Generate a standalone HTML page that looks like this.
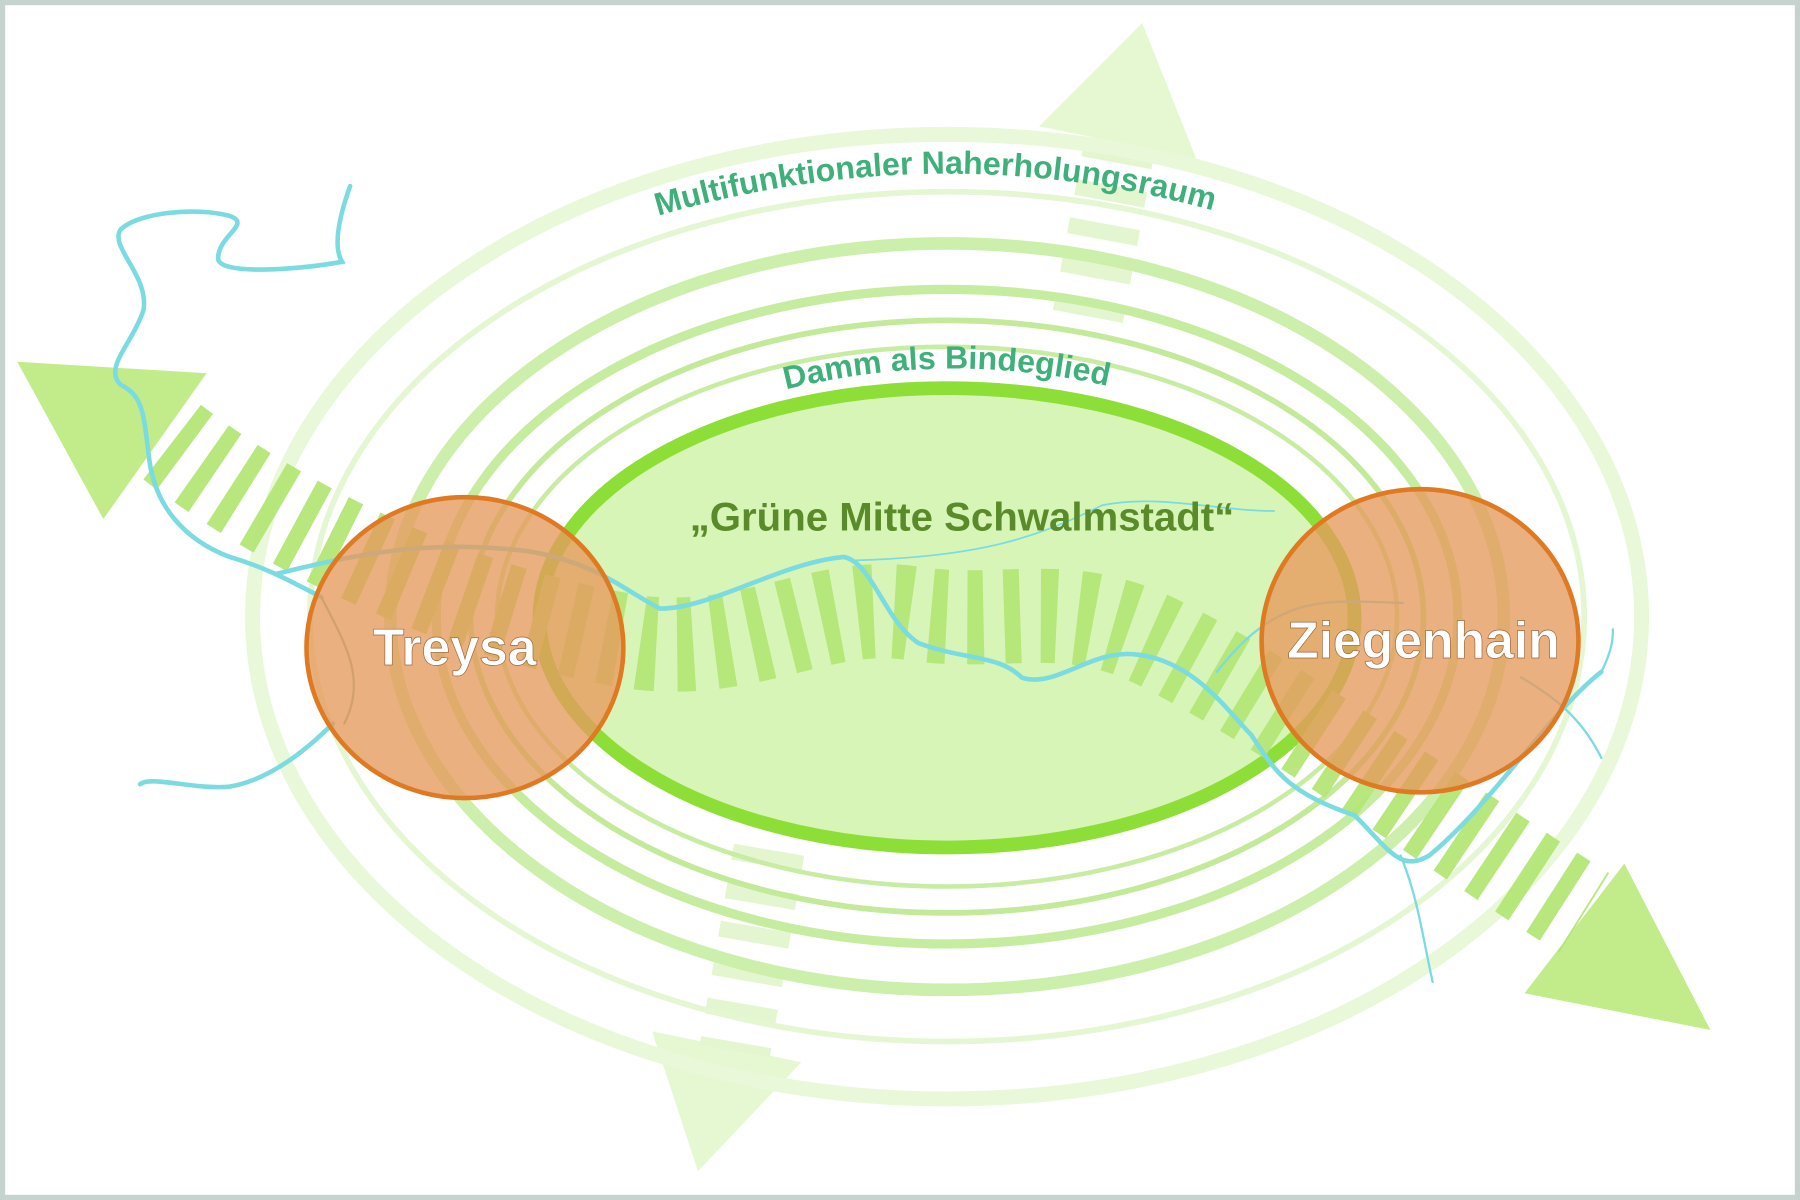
<!DOCTYPE html>
<html><head><meta charset="utf-8"><style>
html,body{margin:0;padding:0;background:#fff;}
svg{display:block;}
text{font-family:"Liberation Sans",sans-serif;font-weight:bold;}
</style></head><body>
<svg width="1800" height="1200" viewBox="0 0 1568 1045" preserveAspectRatio="none" xmlns="http://www.w3.org/2000/svg">
<rect x="2" y="2" width="1564" height="1041" fill="#fff" stroke="#c5d3cf" stroke-width="5"/>
<polygon points="15,315 180,325 90,452" fill="#c2ec8a"/>
<polygon points="1328,865 1415,752 1490,897" fill="#c2ec8a"/>
<polygon points="995,20 905,110 1042,138" fill="#e6f8d2"/>
<polygon points="568,898 698,925 608,1020" fill="#e6f8d2"/>
<path d="M975,128 L945,290" stroke="#e3f6cf" stroke-width="62" stroke-dasharray="14 20" fill="none"/>
<path d="M670,740 L640,915" stroke="#e3f6cf" stroke-width="62" stroke-dasharray="14 20" fill="none"/>
<g fill="none">
<ellipse cx="825" cy="537" rx="605" ry="420" stroke="#e8f8d8" stroke-width="13"/>
<ellipse cx="825" cy="537" rx="555" ry="370" stroke="#e4f6d2" stroke-width="5"/>
<ellipse cx="825" cy="537" rx="485" ry="325" stroke="#cdefac" stroke-width="11"/>
<ellipse cx="825" cy="537" rx="445" ry="285" stroke="#c6eca0" stroke-width="8"/>
<ellipse cx="825" cy="537" rx="415" ry="258" stroke="#c2ea98" stroke-width="5"/>
<ellipse cx="825" cy="537" rx="392" ry="235" stroke="#c8eca2" stroke-width="4"/>
</g>
<ellipse cx="825" cy="538" rx="355" ry="200" fill="#d8f5b8" stroke="#8ddf38" stroke-width="12"/>
<path d="M150,385 C260,470 420,540 560,560 C660,570 720,520 800,535 C880,545 930,520 1010,560 C1120,615 1260,720 1380,795" stroke="#b3e676" stroke-width="82" stroke-dasharray="14 18" fill="none" opacity="0.95"/>
<g fill="none" stroke="#7adbe0" stroke-linecap="round">
<path d="M305,162 C295,190 290,215 298,228 C260,235 190,240 190,225 C190,205 220,195 200,188 C170,180 120,185 105,200 C95,215 130,240 125,270 C115,300 90,320 105,335 C125,345 125,360 130,400 C135,440 160,470 200,485 C235,495 260,510 280,520" stroke-width="4"/>
<path d="M240,500 C320,480 380,470 460,480 C520,490 545,515 575,530 C620,530 680,490 735,485 C760,490 770,540 800,560 C840,575 870,570 890,590 C920,600 950,565 990,570 C1040,575 1070,620 1090,640 C1110,670 1120,690 1180,710 C1210,740 1220,760 1245,745 C1300,700 1350,620 1395,585" stroke-width="4"/>
<path d="M290,630 C260,660 230,680 200,685 C170,688 130,675 122,683" stroke-width="4"/>
<path d="M280,520 C300,560 320,590 300,630" stroke-width="2" stroke="#8fb8a0"/>
<path d="M1220,745 C1235,780 1240,820 1248,855" stroke-width="2"/>
<path d="M1325,590 C1360,610 1380,630 1395,660" stroke-width="2"/>
<path d="M1395,585 C1405,565 1405,555 1405,548" stroke-width="2"/>
<path d="M1060,585 C1080,560 1100,540 1130,530 C1160,520 1200,525 1222,525" stroke-width="2"/>
<path d="M745,488 C850,485 900,470 960,440 C1010,430 1060,445 1110,445" stroke-width="1.5"/>
</g>
<ellipse cx="405" cy="564" rx="138" ry="131" fill="#e69a5c" fill-opacity="0.78" stroke="#e07a22" stroke-width="4"/>
<ellipse cx="1237" cy="558" rx="138" ry="132" fill="#e69a5c" fill-opacity="0.78" stroke="#e07a22" stroke-width="4"/>
<text x="396" y="579" font-size="45" fill="#fff" text-anchor="middle" stroke="#9a6a40" stroke-width="0.6">Treysa</text>
<text x="1240" y="573" font-size="45" fill="#fff" text-anchor="middle" stroke="#9a6a40" stroke-width="0.6">Ziegenhain</text>
<defs>
<path id="arc1" d="M520,205 Q820,100 1110,200"/>
<path id="arc2" d="M640,352 Q825,292 1010,348"/>
</defs>
<text font-size="28" fill="#3fb07a"><textPath href="#arc1" startOffset="50%" text-anchor="middle">Multifunktionaler Naherholungsraum</textPath></text>
<text font-size="28" fill="#3fb07a"><textPath href="#arc2" startOffset="50%" text-anchor="middle">Damm als Bindeglied</textPath></text>
<text x="838" y="462" font-size="35" fill="#5a8a2a" text-anchor="middle">„Grüne Mitte Schwalmstadt“</text>
</svg>
</body></html>
